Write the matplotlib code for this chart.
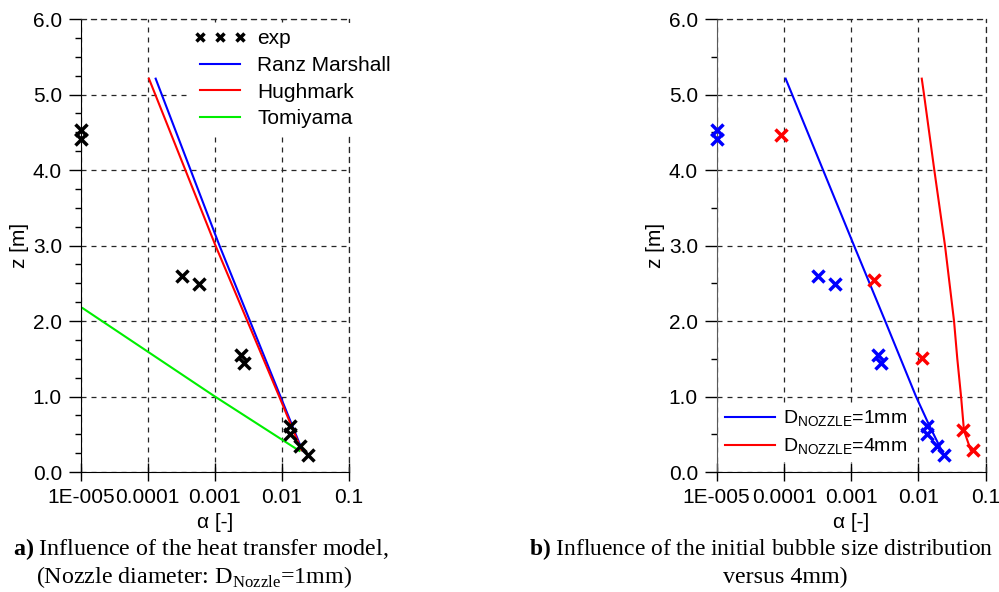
import numpy as np
import matplotlib
matplotlib.use('Agg')
import matplotlib.pyplot as plt
from matplotlib.ticker import LogLocator, NullFormatter, MultipleLocator, FixedLocator

plt.rcParams['font.family'] = 'Liberation Sans'
plt.rcParams['font.size'] = 15
plt.rcParams['mathtext.fontset'] = 'custom'
plt.rcParams['mathtext.rm'] = 'Liberation Sans'
plt.rcParams['mathtext.sf'] = 'Liberation Serif'
plt.rcParams['mathtext.bf'] = 'Liberation Serif:bold'

# experiment, nozzle 1mm
exp_alpha_1mm = [1.0e-5, 1.0e-5, 3.2e-4, 5.7e-4, 2.47e-3, 2.76e-3, 1.33e-2, 1.33e-2, 1.88e-2, 2.41e-2]
exp_z_1mm = [4.53, 4.41, 2.60, 2.49, 1.55, 1.44, 0.61, 0.50, 0.34, 0.22]
# experiment, nozzle 4mm
exp_alpha_4mm = [9.0e-5, 2.18e-3, 1.14e-2, 4.65e-2, 6.4e-2]
exp_z_4mm = [4.47, 2.54, 1.51, 0.556, 0.29]

# heat transfer models (a)
ranz_alpha = [1.31e-4, 1.17e-3, 9.5e-3, 2.0e-2]
ranz_z = [5.21, 3.0, 1.0, 0.29]
hughmark_alpha = [1.04e-4, 1.02e-3, 9.1e-3, 1.95e-2]
hughmark_z = [5.21, 3.0, 1.0, 0.29]
tomiyama_alpha = [1.07e-5, 1.0e-3, 1.82e-2]
tomiyama_z = [2.17, 1.0, 0.28]

# nozzle size (b)
sim_alpha_1mm = [1.06e-4, 1.10e-3, 3.2e-3, 9.2e-3, 1.4e-2, 2.25e-2]
sim_z_1mm = [5.21, 3.0, 2.0, 1.0, 0.645, 0.27]
sim_alpha_4mm = [1.12e-2, 1.21e-2, 1.72e-2, 2.48e-2, 3.38e-2, 3.78e-2, 4.3e-2, 4.75e-2, 5.98e-2]
sim_z_4mm = [5.21, 5.0, 4.0, 3.0, 2.0, 1.5, 1.0, 0.55, 0.29]

xticks = [1e-5, 1e-4, 1e-3, 1e-2, 1e-1]
xtick_labels = ['1E-005', '0.0001', '0.001', '0.01', '0.1']
yticks = [0, 1, 2, 3, 4, 5, 6]
ytick_labels = ['%.1f' % v for v in yticks]

BLUE = '#0000ff'
RED = '#ff0000'
GREEN = '#00ee00'


def style_axes(ax, ystep):
    ax.set_xscale('log')
    ax.set_xlim(1e-5, 0.1)
    ax.set_ylim(0, 6)
    ax.xaxis.set_major_locator(FixedLocator(xticks))
    ax.set_xticklabels(xtick_labels)
    ax.xaxis.set_minor_locator(LogLocator(base=10, subs=np.arange(2, 10)))
    ax.xaxis.set_minor_formatter(NullFormatter())
    ax.set_yticks(yticks)
    ax.set_yticklabels(ytick_labels)
    ax.yaxis.set_minor_locator(MultipleLocator(ystep))
    ax.tick_params(axis='x', which='major', direction='inout', length=13, width=1, pad=5)
    ax.tick_params(axis='x', which='minor', direction='out', length=4, width=1)
    ax.tick_params(axis='y', which='major', direction='out', length=8.5, width=1, pad=5)
    ax.tick_params(axis='y', which='minor', direction='out', length=4, width=1)
    ax.grid(True, which='major', linestyle=(0, (4, 4)), color='0.15', linewidth=0.9)
    for s in ['top', 'right']:
        ax.spines[s].set_linestyle((0, (4, 4)))
        ax.spines[s].set_linewidth(0.9)
        ax.spines[s].set_color('0.15')
    ax.set_xlabel('α [-]', labelpad=4.5)
    ax.set_ylabel('z [m]', labelpad=3)


fig = plt.figure(figsize=(9.99, 5.92), dpi=100)
ax1 = fig.add_axes([0.0808, 0.2027, 0.2686, 0.7652])
ax2 = fig.add_axes([0.7174, 0.2027, 0.2693, 0.7652])

# ---- a) heat transfer model ----
style_axes(ax1, 0.25)
ax1.plot(exp_alpha_1mm, exp_z_1mm, linestyle='none', marker='x', color='black',
         markersize=9, markeredgewidth=2.5, clip_on=False, label='exp', zorder=4)
ax1.plot(ranz_alpha, ranz_z, color=BLUE, lw=1.5, label='Ranz Marshall')
ax1.plot(hughmark_alpha, hughmark_z, color=RED, lw=1.5, label='Hughmark')
ax1.plot(tomiyama_alpha, tomiyama_z, color=GREEN, lw=1.5, label='Tomiyama')
leg1 = ax1.legend(loc='upper left', bbox_to_anchor=(0.399, 0.991), borderaxespad=0,
                  numpoints=3, markerscale=0.6, handlelength=2.5, handletextpad=0.53,
                  labelspacing=0.37, borderpad=0.3, fancybox=False, framealpha=1,
                  facecolor='white', edgecolor='none')

# ---- b) nozzle diameter ----
style_axes(ax2, 0.5)
ax2.spines['left'].set_color('0.35')
ax2.plot(exp_alpha_1mm, exp_z_1mm, linestyle='none', marker='x', color=BLUE,
         markersize=9, markeredgewidth=2.5, clip_on=False, zorder=7)
ax2.plot(exp_alpha_4mm, exp_z_4mm, linestyle='none', marker='x', color=RED,
         markersize=9, markeredgewidth=2.5, clip_on=False, zorder=7)
l1, = ax2.plot(sim_alpha_1mm, sim_z_1mm, color=BLUE, lw=1.5, zorder=6)
l2, = ax2.plot(sim_alpha_4mm, sim_z_4mm, color=RED, lw=1.5, zorder=6)
ax2.legend([l1, l2], [r'D$_{\mathrm{NOZZLE}}$=1mm', r'D$_{\mathrm{NOZZLE}}$=4mm'],
           loc='lower left', bbox_to_anchor=(0.0115, 0.022), borderaxespad=0,
           fontsize=14, handlelength=2.6, handletextpad=0.38, labelspacing=0.42,
           borderpad=0.25, fancybox=False, framealpha=1, facecolor='white',
           edgecolor='none')

# captions
cap = dict(family='Liberation Serif', fontsize=17.25, va='center')
fig.text(0.2015, 1 - 549 / 592, r'$\mathbf{a)}$ Influence of the heat transfer model,', ha='center', **cap)
fig.text(0.194, 1 - 577 / 592, r'(Nozzle diameter: D$_{\mathsf{Nozzle}}$=1mm)', ha='center', **cap)
fig.text(0.530, 1 - 549 / 592, r'$\mathbf{b)}$ Influence of the initial bubble size distribution',
         ha='left', family='Liberation Serif', fontsize=16.9, va='center')
fig.text(0.786, 1 - 577 / 592, 'versus 4mm)', ha='center', **cap)

fig.savefig('out.png', dpi=100)
